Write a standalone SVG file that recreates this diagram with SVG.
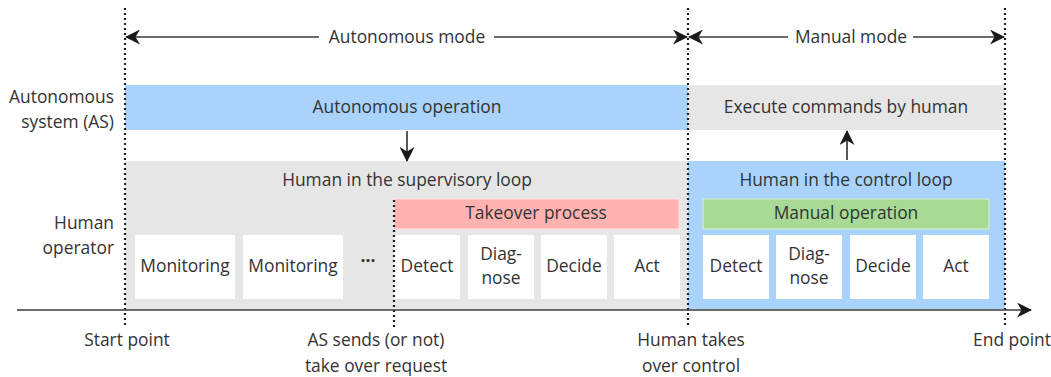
<svg xmlns="http://www.w3.org/2000/svg" width="1051" height="377" viewBox="0 0 1051 377">
  <defs>
    <marker id="head" viewBox="0 0 15 15" refX="14" refY="7.5" markerWidth="15" markerHeight="15" markerUnits="userSpaceOnUse" orient="auto-start-reverse">
      <path d="M0,0 L15,7.5 L0,15 L4.5,7.5 Z" fill="#1a1a1a"/>
    </marker>
    <style>
      text { font-family: "Open Sans", "Noto Sans", "Liberation Sans", sans-serif; font-size: 17.4px; fill: #333; }
      .mid { text-anchor: middle; }
      .end { text-anchor: end; }
      .line { stroke: #3a3a3a; stroke-width: 1.7; fill: none; }
      .dots { stroke: #1f1f1f; stroke-width: 2.2; stroke-dasharray: 2 3; fill: none; }
      .step { fill: #ffffff; }
    </style>
  </defs>

  <rect width="1051" height="377" fill="#ffffff"/>

  <!-- row labels -->
  <g id="labels">
    <text class="end" x="114" y="103">Autonomous</text>
    <text class="end" x="114" y="128">system (AS)</text>
    <text class="end" x="114" y="229">Human</text>
    <text class="end" x="114" y="254">operator</text>
  </g>

  <!-- autonomous system row -->
  <g id="autonomous-operation">
    <rect x="125" y="85" width="563" height="45" fill="#a9d3fb"/>
    <text class="mid" x="407" y="113">Autonomous operation</text>
  </g>
  <g id="execute-commands">
    <rect x="688" y="85" width="317" height="45" fill="#e6e6e6"/>
    <text class="mid" x="846" y="113">Execute commands by human</text>
  </g>

  <!-- human operator row -->
  <g id="supervisory-loop">
    <rect x="125" y="161" width="563" height="148" fill="#e6e6e6"/>
    <text class="mid" x="407" y="186">Human in the supervisory loop</text>
  </g>
  <g id="control-loop">
    <rect x="688" y="161" width="317" height="148" fill="#a9d3fb"/>
    <text class="mid" x="846" y="186">Human in the control loop</text>
  </g>

  <g id="takeover-process">
    <rect x="394" y="199" width="285" height="30" fill="#ffb3b1" stroke="#ffe0df" stroke-width="1"/>
    <text class="mid" x="536" y="219">Takeover process</text>
  </g>
  <g id="manual-operation">
    <rect x="703" y="199" width="286" height="30" fill="#a9da95" stroke="#d9f0d0" stroke-width="1"/>
    <text class="mid" x="846" y="219">Manual operation</text>
  </g>

  <g id="monitoring-1">
    <rect class="step" x="135" y="235" width="100" height="64"/>
    <text class="mid" x="185" y="272">Monitoring</text>
  </g>
  <g id="monitoring-2">
    <rect class="step" x="243" y="235" width="100" height="64"/>
    <text class="mid" x="293" y="272">Monitoring</text>
  </g>
  <g id="ellipsis">
    <text class="mid" x="368" y="262" font-weight="bold" font-size="22" fill="#222">...</text>
  </g>

  <g id="detect-1">
    <rect class="step" x="394" y="235" width="66" height="64"/>
    <text class="mid" x="427" y="272">Detect</text>
  </g>
  <g id="diagnose-1">
    <rect class="step" x="468" y="235" width="66" height="64"/>
    <text class="mid" x="501" y="260">Diag-</text>
    <text class="mid" x="501" y="284">nose</text>
  </g>
  <g id="decide-1">
    <rect class="step" x="541" y="235" width="66" height="64"/>
    <text class="mid" x="574" y="272">Decide</text>
  </g>
  <g id="act-1">
    <rect class="step" x="614" y="235" width="66" height="64"/>
    <text class="mid" x="647" y="272">Act</text>
  </g>

  <g id="detect-2">
    <rect class="step" x="703" y="235" width="66" height="64"/>
    <text class="mid" x="736" y="272">Detect</text>
  </g>
  <g id="diagnose-2">
    <rect class="step" x="776" y="235" width="66" height="64"/>
    <text class="mid" x="809" y="260">Diag-</text>
    <text class="mid" x="809" y="284">nose</text>
  </g>
  <g id="decide-2">
    <rect class="step" x="850" y="235" width="66" height="64"/>
    <text class="mid" x="883" y="272">Decide</text>
  </g>
  <g id="act-2">
    <rect class="step" x="923" y="235" width="66" height="64"/>
    <text class="mid" x="956" y="272">Act</text>
  </g>

  <!-- time markers -->
  <g id="time-markers">
    <line class="dots" x1="125" y1="8" x2="125" y2="328"/>
    <line class="dots" x1="394" y1="200" x2="394" y2="328"/>
    <line class="dots" x1="688" y1="8" x2="688" y2="328"/>
    <line class="dots" x1="1005" y1="8" x2="1005" y2="328"/>
    <text class="mid" x="127" y="346">Start point</text>
    <text class="mid" x="376" y="346">AS sends (or not)</text>
    <text class="mid" x="376" y="372">take over request</text>
    <text class="mid" x="691" y="346">Human takes</text>
    <text class="mid" x="691" y="372">over control</text>
    <text class="mid" x="1012" y="346">End point</text>
  </g>

  <!-- mode spans and connectors -->
  <g id="connectors">
    <text class="mid" x="407" y="43">Autonomous mode</text>
    <line class="line" x1="319" y1="37" x2="126" y2="37" marker-end="url(#head)"/>
    <line class="line" x1="494" y1="37" x2="687" y2="37" marker-end="url(#head)"/>
    <text class="mid" x="851" y="43">Manual mode</text>
    <line class="line" x1="788" y1="37" x2="689" y2="37" marker-end="url(#head)"/>
    <line class="line" x1="913" y1="37" x2="1004" y2="37" marker-end="url(#head)"/>
    <line class="line" x1="407" y1="131" x2="407" y2="161" marker-end="url(#head)"/>
    <line class="line" x1="847" y1="160" x2="847" y2="131" marker-end="url(#head)"/>
    <line class="line" x1="17" y1="310" x2="1031" y2="310" marker-end="url(#head)"/>
  </g>
</svg>
